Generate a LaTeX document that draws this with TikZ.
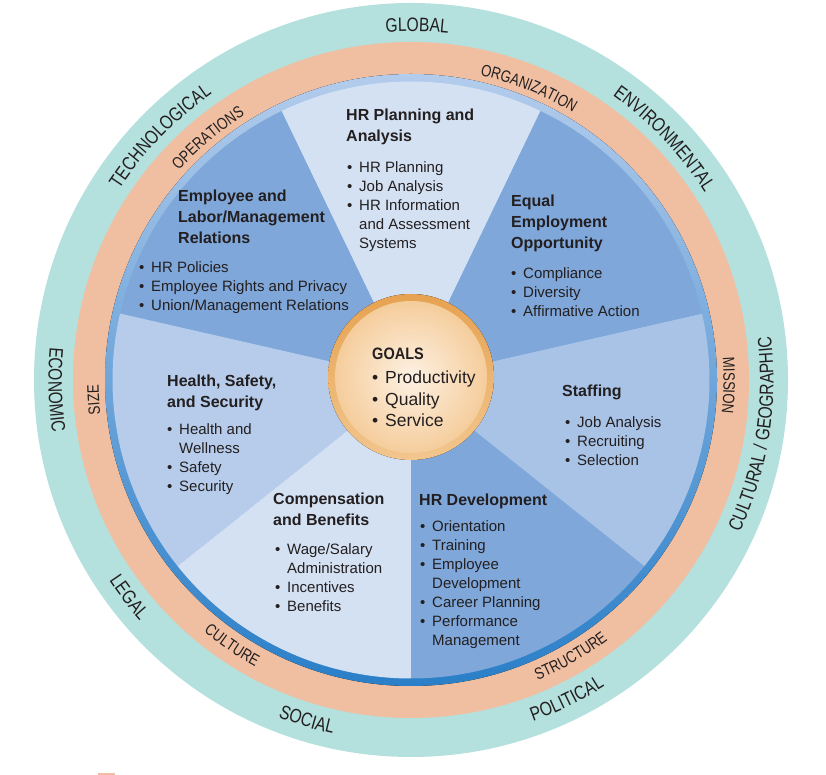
\documentclass[tikz,border=0pt]{standalone}
\usepackage{fontspec}
\setmainfont{Liberation Sans}
\newfontfamily\ringfam[FakeStretch=0.8]{Liberation Sans}
\newfontfamily\condfam[FakeStretch=0.88]{Liberation Sans}
\usetikzlibrary{decorations.text}
\definecolor{teal1}{HTML}{B4E0DE}
\definecolor{salmon1}{HTML}{F0BFA2}
\definecolor{bandtop}{HTML}{B3CCEC}
\definecolor{bandbot}{HTML}{2A7FC8}
\definecolor{wlight}{HTML}{D4E1F3}
\definecolor{wmedA}{HTML}{B7CCEB}
\definecolor{wmedB}{HTML}{A9C3E7}
\definecolor{wdark}{HTML}{7FA7DA}
\definecolor{gring1}{HTML}{E6A251}
\definecolor{gring2}{HTML}{F2C68E}
\definecolor{gin1}{HTML}{FDF1E3}
\definecolor{gin2}{HTML}{F5CD9C}
\definecolor{txtcol}{HTML}{231F20}
\newcommand\myb{\makebox[12pt][l]{\textbullet}}
\newcommand\myi{\hspace*{12pt}}
\newcommand\mylines[1]{\begin{tabular}[t]{@{}l@{}}#1\end{tabular}}
\newcommand\myfontA{\color{txtcol}\ringfam\fontsize{19.5}{19.5}\selectfont}
\newcommand\myfontB{\color{txtcol}\ringfam\fontsize{16.5}{16.5}\selectfont}
\tikzset{
  hd/.style={anchor=base west, inner sep=0pt, text=txtcol, font=\bfseries\fontsize{16}{21}\selectfont},
  bl/.style={anchor=base west, inner sep=0pt, text=txtcol, font=\fontsize{15}{19}\selectfont},
  gl/.style={anchor=base west, inner sep=0pt, text=txtcol, font=\fontsize{17.5}{21.5}\selectfont},
  ringtxt/.style={decorate, decoration={text along path, text align=center, text={#1}}}
}
\begin{document}
\begin{tikzpicture}[x=1pt,y=1pt]
\useasboundingbox (0,0) rectangle (826,775);
\coordinate (C) at (411,395);
\coordinate (G) at (411,398);
% rings
\fill[teal1] (C) circle (377);
\fill[salmon1] (C) circle (338);
\fill[top color=bandtop, bottom color=bandbot] (C) circle (306);
% wedges
\foreach \a/\b/\c in {64.29/115.71/wlight, 115.71/167.14/wdark, 167.14/218.57/wmedA, 218.57/270/wlight, 270/321.43/wdark, 321.43/372.86/wmedB, 12.86/64.29/wdark}
  \fill[\c] (C) -- ++(\a:298.5) arc[start angle=\a, end angle=\b, radius=298.5] -- cycle;
% goals circle
\fill[top color=gring1, bottom color=gring2] (G) circle (83);
\shade[inner color=gin1, outer color=gin2] (G) circle (76);
% outer ring texts (clockwise, tops outward)
\path[shift={(C)}, ringtxt={|\myfontA|GLOBAL}] (129:348.5) arc[start angle=129, end angle=49, radius=348.5];
\path[shift={(C)}, ringtxt={|\myfontA|ENVIRONMENTAL}] (83.6:348.5) arc[start angle=83.6, end angle=3.6, radius=348.5];
\path[shift={(C)}, ringtxt={|\myfontA|TECHNOLOGICAL}] (175.8:348.5) arc[start angle=175.8, end angle=95.8, radius=348.5];
% outer ring texts (counterclockwise, tops inward)
\path[shift={(C)}, ringtxt={|\myfontA|CULTURAL / GEOGRAPHIC}] (-59:362.5) arc[start angle=-59, end angle=41, radius=362.5];
\path[shift={(C)}, ringtxt={|\myfontA|POLITICAL}] (-104:362.5) arc[start angle=-104, end angle=-24, radius=362.5];
\path[shift={(C)}, ringtxt={|\myfontA|SOCIAL}] (-147:362.5) arc[start angle=-147, end angle=-67, radius=362.5];
\path[shift={(C)}, ringtxt={|\myfontA|LEGAL}] (-182.4:362.5) arc[start angle=-182.4, end angle=-102.4, radius=362.5];
\path[shift={(C)}, ringtxt={|\myfontA|ECONOMIC}] (141.6:362.5) arc[start angle=141.6, end angle=221.6, radius=362.5];
% salmon ring texts
\path[shift={(C)}, ringtxt={|\myfontB|ORGANIZATION}] (108:312.5) arc[start angle=108, end angle=28, radius=312.5];
\path[shift={(C)}, ringtxt={|\myfontB|OPERATIONS}] (170:312.5) arc[start angle=170, end angle=90, radius=312.5];
\path[shift={(C)}, ringtxt={|\myfontB|MISSION}] (39:312.5) arc[start angle=39, end angle=-41, radius=312.5];
\path[shift={(C)}, ringtxt={|\myfontB|SIZE}] (223.6:312.5) arc[start angle=223.6, end angle=143.6, radius=312.5];
\path[shift={(C)}, ringtxt={|\myfontB|STRUCTURE}] (-100:326) arc[start angle=-100, end angle=-20, radius=326];
\path[shift={(C)}, ringtxt={|\myfontB|CULTURE}] (-164:326) arc[start angle=-164, end angle=-84, radius=326];
% wedge texts
\node[hd] (hrpH) at (346,654) {\mylines{HR Planning and\\Analysis}};
\node[bl] (hrpB) at (347,602) {\mylines{\myb HR Planning\\\myb Job Analysis\\\myb HR Information\\\myi and Assessment\\\myi Systems}};
\node[hd] (eeoH) at (511,568) {\mylines{Equal\\Employment\\Opportunity}};
\node[bl] (eeoB) at (511,496) {\mylines{\myb Compliance\\\myb Diversity\\\myb Affirmative Action}};
\node[hd] (elrH) at (178,573) {\mylines{Employee and\\Labor/Management\\Relations}};
\node[bl] (elrB) at (139,502) {\mylines{\myb HR Policies\\\myb Employee Rights and Privacy\\\myb Union/Management Relations}};
\node[hd] (hssH) at (167,388) {\mylines{Health, Safety,\\and Security}};
\node[bl] (hssB) at (167,340) {\mylines{\myb Health and\\\myi Wellness\\\myb Safety\\\myb Security}};
\node[hd] (cbH) at (273,270) {\mylines{Compensation\\and Benefits}};
\node[bl] (cbB) at (275,220) {\mylines{\myb Wage/Salary\\\myi Administration\\\myb Incentives\\\myb Benefits}};
\node[hd] (hrdH) at (419,269) {HR Development};
\node[bl] (hrdB) at (420,243) {\mylines{\myb Orientation\\\myb Training\\\myb Employee\\\myi Development\\\myb Career Planning\\\myb Performance\\\myi Management}};
\node[hd] (stH) at (562,378) {Staffing};
\node[bl] (stB) at (565,347) {\mylines{\myb Job Analysis\\\myb Recruiting\\\myb Selection}};
% goals
\node[hd, font=\condfam\bfseries\fontsize{16.5}{21}\selectfont] (goalsH) at (372,415) {GOALS};
\node[gl] (goalsB) at (372,391) {\mylines{\makebox[13pt][l]{\textbullet}Productivity\\\makebox[13pt][l]{\textbullet}Quality\\\makebox[13pt][l]{\textbullet}Service}};
% small mark at bottom edge
\fill[salmon1] (98,0) rectangle (115,2);
\end{tikzpicture}
\end{document}
